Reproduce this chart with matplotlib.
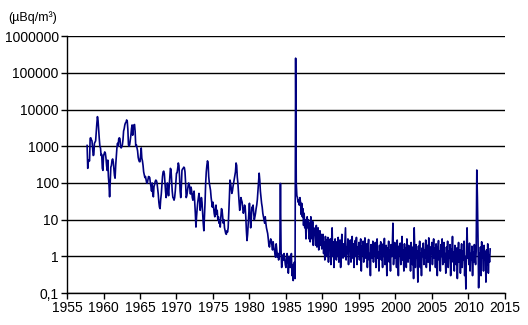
import numpy as np
import matplotlib.pyplot as plt
from matplotlib.ticker import FixedLocator, FixedFormatter, NullLocator

plt.rcParams['font.family'] = ['Liberation Sans', 'DejaVu Sans']

# monthly activity, first value = Oct 1957
start_year = 1957.75
vals_1957 = [1050, 250, 380]
vals_1958 = [420, 400, 1650, 1700, 1500, 1400, 900, 560, 580, 1200, 1300, 1400]
vals_1959 = [2500, 4200, 6400, 5000, 2700, 1600, 1000, 900, 560, 600, 250, 220]
vals_1960 = [550, 620, 700, 650, 480, 300, 220, 420, 150, 90, 42, 110]
vals_1961 = [270, 300, 420, 450, 380, 240, 160, 135, 300, 520, 900, 1200]
vals_1962 = [1000, 1600, 1700, 1600, 1000, 900, 970, 1100, 1500, 2600, 3000, 3800]
vals_1963 = [4300, 4500, 5200, 4800, 2900, 1100, 1000, 1100, 1500, 2000, 3000, 3800]
vals_1964 = [2000, 3000, 3800, 3900, 2500, 1000, 1100, 900, 750, 500, 420, 380]
vals_1965 = [380, 600, 900, 470, 400, 300, 200, 165, 140, 150, 120, 100]
vals_1966 = [98, 120, 150, 147, 140, 100, 80, 60, 100, 50, 42, 80]
vals_1967 = [90, 110, 120, 115, 100, 70, 50, 30, 22, 20, 35, 50]
vals_1968 = [90, 150, 200, 210, 180, 100, 60, 40, 55, 100, 70, 45]
vals_1969 = [80, 150, 250, 230, 120, 60, 41, 38, 34, 40, 60, 110]
vals_1970 = [185, 190, 250, 350, 300, 150, 60, 40, 80, 220, 240, 250]
vals_1971 = [270, 260, 200, 100, 40, 45, 60, 80, 100, 90, 70, 50]
vals_1972 = [77, 60, 40, 34, 50, 60, 30, 15, 6.3, 12, 20, 30]
vals_1973 = [40, 52, 35, 18, 25, 40, 30, 15, 8, 5, 12, 30]
vals_1974 = [100, 200, 300, 400, 350, 150, 100, 80, 63, 40, 30, 22]
vals_1975 = [30, 22, 15, 12, 18, 25, 14, 18, 10, 12, 8, 10]
vals_1976 = [6.3, 12, 20, 18, 12, 8, 10, 6, 5, 4.2, 4, 5]
vals_1977 = [4.6, 6, 15, 40, 120, 100, 70, 52, 60, 80, 100, 120]
vals_1978 = [150, 200, 350, 300, 145, 100, 52, 30, 18, 25, 40, 34]
vals_1979 = [30, 20, 15, 18, 25, 22, 12, 5, 2.7, 4, 8, 15]
vals_1980 = [28, 12, 6, 10, 22, 18, 25, 15, 10, 12, 15, 20]
vals_1981 = [25, 35, 60, 100, 185, 120, 60, 40, 28, 22, 15, 12]
vals_1982 = [10, 8, 12, 8, 6, 5, 4.2, 3, 2, 1.8, 2.5, 3]
vals_1983 = [2.7, 2, 1.5, 2.5, 1.8, 1.5, 1.2, 0.95, 2.2, 1.5, 0.95, 1.2]
vals_1984 = [0.8, 1, 1.4, 97, 1.5, 0.5, 0.7, 1.1, 0.8, 1.2, 0.9, 0.6]
vals_1985 = [0.5, 0.8, 1.2, 0.9, 0.35, 0.7, 1.0, 0.5, 0.8, 1.2, 0.3, 0.6]
vals_1986 = [0.22, 0.5, 0.7, 0.25, 250000, 100, 45, 40, 30, 35, 25, 40]
vals_1987 = [30, 14, 28, 12, 20, 7, 15, 6, 10, 3, 8, 12]
vals_1988 = [6, 10, 3, 8, 2.5, 12, 5, 3, 9, 2, 6, 4]
vals_1989 = [5, 2, 7, 1.8, 4, 6, 1.5, 3, 5, 2, 4, 1.6]
vals_1990 = [3, 4, 1.2, 2.5, 0.8, 3.5, 1.5, 2.8, 1, 3.3, 0.7, 2]
vals_1991 = [1.5, 3, 0.6, 2.2, 6, 1, 2.5, 0.5, 1.8, 3, 1.2, 0.8]
vals_1992 = [2.5, 1, 3.3, 0.7, 1.6, 2.8, 0.5, 1.4, 4, 1.2, 0.9, 2.2]
vals_1993 = [1, 2.6, 6, 0.8, 1.8, 1.2, 3, 0.6, 2, 1.4, 2.8, 0.7]
vals_1994 = [1.6, 3.5, 0.9, 2.2, 0.5, 1.5, 2.7, 1, 3.3, 0.6, 1.8, 1.2]
vals_1995 = [2.4, 0.8, 1.5, 3, 0.4, 1.9, 1.1, 2.6, 0.7, 1.6, 3.2, 0.9]
vals_1996 = [1.4, 2.2, 0.5, 1.8, 2.9, 0.8, 1.2, 0.3, 2.1, 1.5, 0.9, 2.6]
vals_1997 = [0.7, 1.8, 1.1, 2.4, 0.5, 1.5, 3, 0.9, 1.3, 0.4, 2, 1.2]
vals_1998 = [2.5, 0.8, 1.6, 0.5, 2.2, 1, 3.1, 0.6, 1.4, 2, 0.3, 1.7]
vals_1999 = [1.1, 2.6, 0.7, 1.5, 0.4, 2.1, 1, 1.8, 8, 0.6, 1.3, 2.4]
vals_2000 = [0.9, 1.6, 0.5, 2.8, 1.2, 0.3, 1.9, 1.1, 2.3, 0.6, 1.4, 3.5]
vals_2001 = [0.8, 1.5, 0.4, 2.2, 1, 1.7, 0.5, 3, 1.2, 0.7, 2, 0.9]
vals_2002 = [1.6, 0.4, 2.4, 1.1, 0.6, 1.8, 0.25, 6, 1.3, 0.5, 2.1, 0.9]
vals_2003 = [1.4, 0.2, 1.9, 0.8, 2.6, 0.5, 1.2, 0.3, 1.7, 1, 2.3, 0.6]
vals_2004 = [1.5, 0.9, 2.8, 0.5, 1.3, 2, 0.7, 3.2, 1.1, 0.4, 1.8, 1.2]
vals_2005 = [2.4, 0.6, 1.5, 3, 0.9, 1.7, 0.5, 2.2, 1.2, 0.3, 1.6, 2.7]
vals_2006 = [0.8, 1.4, 0.4, 2.1, 1, 3, 0.6, 1.5, 2.4, 0.7, 1.2, 0.35]
vals_2007 = [1.8, 1, 2.6, 0.5, 1.4, 0.9, 2.1, 0.3, 1.6, 1.1, 3.5, 0.7]
vals_2008 = [1.3, 0.4, 2, 1, 0.6, 1.7, 0.25, 1.2, 2.4, 0.7, 1.5, 0.35]
vals_2009 = [1.1, 2.2, 0.5, 1.4, 0.8, 2.6, 0.3, 1, 0.13, 1.6, 6, 0.9]
vals_2010 = [1.5, 0.6, 2.3, 0.4, 1.2, 0.8, 1.9, 0.3, 1.3, 0.7, 2.1, 1]
vals_2011 = [0.6, 1.4, 225, 40, 3, 0.14, 1.2, 0.5, 1.8, 0.3, 2.5, 0.9]
vals_2012 = [1.7, 0.4, 2, 0.8, 1.3, 0.2, 1.5, 0.6, 2.2, 0.35, 1.1, 0.7]
vals_2013 = [1.6]

y_ticks = [0.1, 1, 10, 100, 1000, 10000, 100000, 1000000]
y_labels = ['0,1', '1', '10', '100', '1000', '10000', '100000', '1000000']
x_ticks = [1955, 1960, 1965, 1970, 1975, 1980, 1985, 1990, 1995, 2000, 2005, 2010, 2015]

values = []
for yr in range(1957, 2014):
    values += globals()['vals_%d' % yr]
values = np.array(values, dtype=float)
years = start_year + np.arange(len(values)) / 12.0

fig = plt.figure(figsize=(5.28, 3.25), dpi=100)
ax = fig.add_axes([0.127, 0.098, 0.829, 0.791])

ax.plot(years, values, color='#000080', lw=1.2)

ax.set_yscale('log')
ax.set_ylim(0.1, 1000000)
ax.set_xlim(1955, 2015)
ax.yaxis.set_major_locator(FixedLocator(y_ticks))
ax.yaxis.set_major_formatter(FixedFormatter(y_labels))
ax.yaxis.set_minor_locator(NullLocator())
ax.set_xticks(x_ticks)
ax.grid(axis='y', color='black', lw=1.0)
ax.set_axisbelow(True)
for s in ['top', 'right']:
    ax.spines[s].set_visible(False)
for s in ['left', 'bottom']:
    ax.spines[s].set_linewidth(1.0)
ax.tick_params(axis='both', labelsize=10, length=4, width=1.0, pad=2)

fig.text(0.015, 0.965, '(µBq/m³)', fontsize=9, va='top', ha='left')

fig.savefig('out.png', dpi=100)
